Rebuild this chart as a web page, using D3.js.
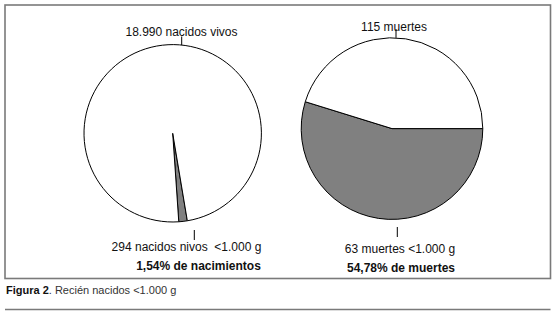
<!DOCTYPE html>
<html>
<head>
<meta charset="utf-8">
<script src="https://cdn.jsdelivr.net/npm/d3@7"></script>
<style>
  html, body { margin: 0; padding: 0; background: #fff; }
  svg { display: block; }
  text { font-family: Arial, "Liberation Sans", Helvetica, sans-serif; white-space: pre; }
</style>
</head>
<body>
<svg id="chart" width="558" height="313"></svg>
<script>
// ---- data ----
const piesNames = ["nacidos", "muertes"];
const birthsValues = [294, 18696];          // <1.000 g, rest (total 18.990)
const deathsValues = [63, 52];              // <1.000 g, rest (total 115)
const topLabels = ["18.990 nacidos vivos", "115 muertes"];
const bottomLabels = ["294 nacidos nivos  <1.000 g", "63 muertes <1.000 g"];
const pctLabels = ["1,54% de nacimientos", "54,78% de muertes"];
const captionBold = "Figura 2";
const captionText = ". Recién nacidos <1.000 g";

const svg = d3.select("#chart");

// frame
svg.append("rect").attr("x", 5).attr("y", 5).attr("width", 545.5).attr("height", 273.5)
  .attr("fill", "none").attr("stroke", "#7a7a7a").attr("stroke-width", 1.6);
svg.append("line").attr("x1", 5).attr("x2", 550.5).attr("y1", 309.5).attr("y2", 309.5)
  .attr("stroke", "#7a7a7a").attr("stroke-width", 1.6);

const configs = [
  { values: birthsValues, cx: 172.7, cy: 133.3, r: 88.7, start: 170.5,
    topX: 181.5, topY: 36, leadTop: [181.7, 36.5], leadBot: [194.3, 230, 240],
    botX: 186.5, botY: 250.5, pctX: 198.5, pctY: 270 },
  { values: deathsValues, cx: 392, cy: 128.6, r: 90.8, start: 90,
    topX: 394, topY: 30.5, leadTop: [396, 29], leadBot: [397.3, 227, 237],
    botX: 400, botY: 253, pctX: 401, pctY: 271.5 }
];

const fills = ["#808080", "#ffffff"];

configs.forEach((c, i) => {
  const startRad = c.start * Math.PI / 180;
  const pie = d3.pie().sort(null).startAngle(startRad).endAngle(startRad + 2 * Math.PI);
  const arc = d3.arc().innerRadius(0).outerRadius(c.r);
  const g = svg.append("g").attr("transform", `translate(${c.cx},${c.cy})`);
  g.selectAll("path").data(pie(c.values)).join("path")
    .attr("d", arc)
    .attr("fill", (d, j) => fills[j])
    .attr("stroke", "#000")
    .attr("stroke-width", 1)
    .attr("stroke-linejoin", "round");

  // top leader
  const dx = c.leadTop[0] - c.cx;
  const yEdge = c.cy - Math.sqrt(c.r * c.r - dx * dx);
  svg.append("line").attr("x1", c.leadTop[0]).attr("x2", c.leadTop[0])
    .attr("y1", c.leadTop[1]).attr("y2", yEdge)
    .attr("stroke", "#000").attr("stroke-width", 1);
  // bottom leader
  svg.append("line").attr("x1", c.leadBot[0]).attr("x2", c.leadBot[0])
    .attr("y1", c.leadBot[1]).attr("y2", c.leadBot[2])
    .attr("stroke", "#000").attr("stroke-width", 1);

  svg.append("text").attr("x", c.topX).attr("y", c.topY).attr("text-anchor", "middle")
    .attr("font-size", 12).attr("fill", "#111").text(topLabels[i]);
  svg.append("text").attr("x", c.botX).attr("y", c.botY).attr("text-anchor", "middle")
    .attr("font-size", 12).attr("fill", "#111").text(bottomLabels[i]);
  svg.append("text").attr("x", c.pctX).attr("y", c.pctY).attr("text-anchor", "middle")
    .attr("font-size", 12).attr("font-weight", "bold").attr("fill", "#111").text(pctLabels[i]);
});

// caption
const cap = svg.append("text").attr("x", 6).attr("y", 293.5).attr("font-size", 11).attr("fill", "#333");
cap.append("tspan").attr("font-weight", "bold").attr("fill", "#111").text(captionBold);
cap.append("tspan").text(captionText);
</script>
</body>
</html>
